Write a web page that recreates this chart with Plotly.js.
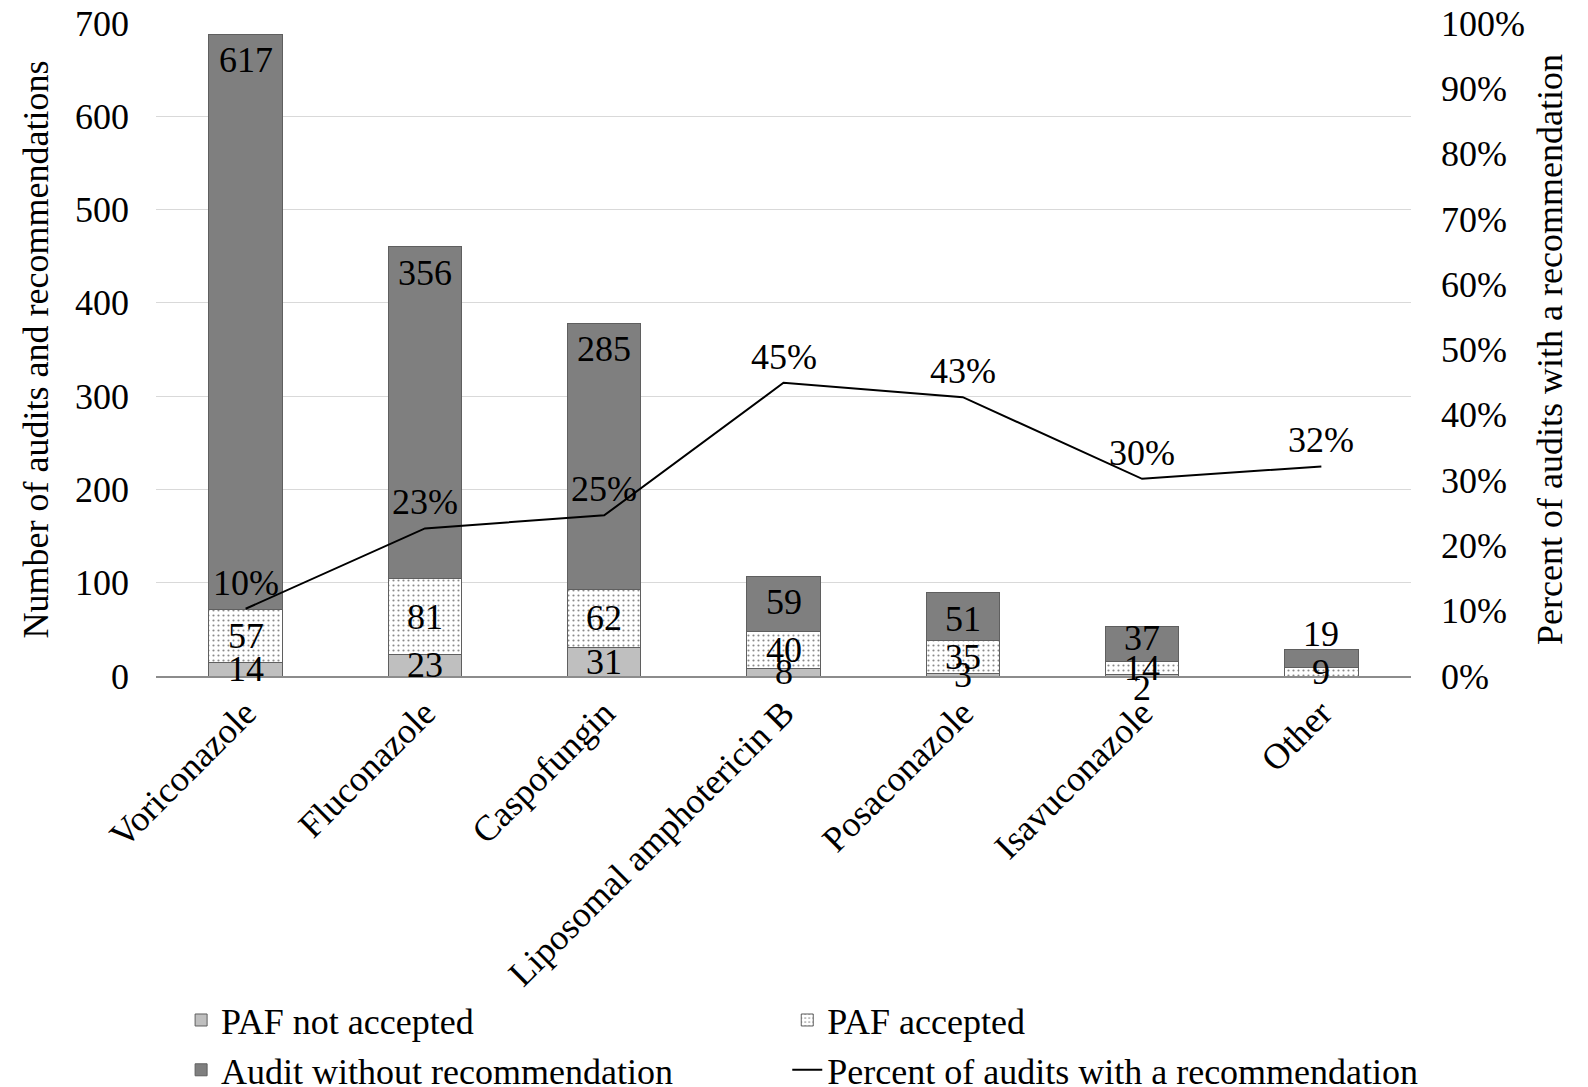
<!DOCTYPE html>
<html>
<head>
<meta charset="utf-8">
<script src="https://cdn.plot.ly/plotly-3.0.1.min.js"></script>
<style>html,body{margin:0;padding:0;background:#fff;}#chart{width:1588px;height:1087px;}</style>
</head>
<body>
<div id="chart"></div>
<script>
const categories = ["Voriconazole","Fluconazole","Caspofungin","Liposomal amphotericin B","Posaconazole","Isavuconazole","Other"];
const pafNotAccepted = [14, 23, 31, 8, 3, 2, 0];
const pafAccepted = [57, 81, 62, 40, 35, 14, 9];
const auditWithout = [617, 356, 285, 59, 51, 37, 19];
const percentWithRec = [0.103, 0.226, 0.246, 0.449, 0.427, 0.302, 0.321];

const FONT = "Liberation Serif, Times New Roman, serif";
const FS = 36;
const lineCol = "#5f5f5f";
const tf = {family: FONT, size: FS, color: "#000"};

const traces = [
  {type: "bar", name: "PAF not accepted", x: categories, y: pafNotAccepted, legend: "legend",
   marker: {color: "#bfbfbf", line: {color: lineCol, width: 1}}, hoverinfo: "skip"},
  {type: "bar", name: "PAF accepted", x: categories, y: pafAccepted, legend: "legend2",
   marker: {color: "#ffffff", line: {color: lineCol, width: 1},
            pattern: {shape: ".", fgcolor: "#8a8a8a", bgcolor: "#ffffff", size: 5, solidity: 0.15}}, hoverinfo: "skip"},
  {type: "bar", name: "Audit without recommendation", x: categories, y: auditWithout, legend: "legend",
   marker: {color: "#7f7f7f", line: {color: lineCol, width: 1}}, hoverinfo: "skip"},
  {type: "scatter", mode: "lines", name: "Percent of audits with a recommendation", legend: "legend2",
   x: categories, y: percentWithRec, yaxis: "y2",
   line: {color: "#000000", width: 2}, hoverinfo: "skip"}
];

// data labels as annotations anchored to data coordinates
const annotations = [];
function addLabel(x, y, text, yshift, yref) {
  annotations.push({x: x, y: y, xref: "x", yref: yref || "y", text: text, showarrow: false,
    xanchor: "center", yanchor: "middle", yshift: yshift, font: tf});
}
categories.forEach((cat, i) => {
  const a = pafNotAccepted[i], b = pafAccepted[i], c = auditWithout[i];
  if (a > 0) addLabel(cat, a / 2, String(a), a < 3 ? -13 : 0);
  addLabel(cat, a + b / 2, String(b), 0);
  const top = a + b + c;
  addLabel(cat, top, String(c), c >= 50 ? -26 : (c >= 25 ? -11 : 16));
  addLabel(cat, percentWithRec[i], Math.round(percentWithRec[i] * 100) + "%", 26, "y2");
});

const legendBase = {orientation: "v", xanchor: "left", y: -0.481, yanchor: "top",
                    traceorder: "normal", font: tf, itemwidth: 30, bgcolor: "rgba(0,0,0,0)"};

const layout = {
  width: 1588, height: 1087,
  margin: {l: 156, r: 177, t: 23, b: 411, autoexpand: false},
  paper_bgcolor: "#fff", plot_bgcolor: "#fff",
  font: {family: FONT, size: FS, color: "#000"},
  barmode: "stack", bargap: 0.59,
  showlegend: true,
  annotations: annotations,
  xaxis: {type: "category", tickangle: -45, showline: true, linecolor: "#8c8c8c", linewidth: 1.5,
          ticks: "", showgrid: false, automargin: false, tickfont: tf},
  yaxis: {range: [0, 700], dtick: 100, showgrid: true, gridcolor: "#d9d9d9", gridwidth: 1,
          zeroline: false, showline: false, ticks: "", ticklabelstandoff: 26, automargin: false,
          tickfont: tf,
          title: {text: "Number of audits and recommendations", font: tf, standoff: 15}},
  yaxis2: {range: [0, 1], dtick: 0.1, tickformat: ".0%", overlaying: "y", side: "right",
           showgrid: false, zeroline: false, showline: false, ticks: "", ticklabelstandoff: 29, automargin: false,
           tickfont: tf,
           title: {text: "Percent of audits with a recommendation", font: tf, standoff: 12}},
  legend: Object.assign({}, legendBase, {x: 0.02}),
  legend2: Object.assign({}, legendBase, {x: 0.503})
};

Plotly.newPlot("chart", traces, layout, {displayModeBar: false, staticPlot: true});
</script>
</body>
</html>
